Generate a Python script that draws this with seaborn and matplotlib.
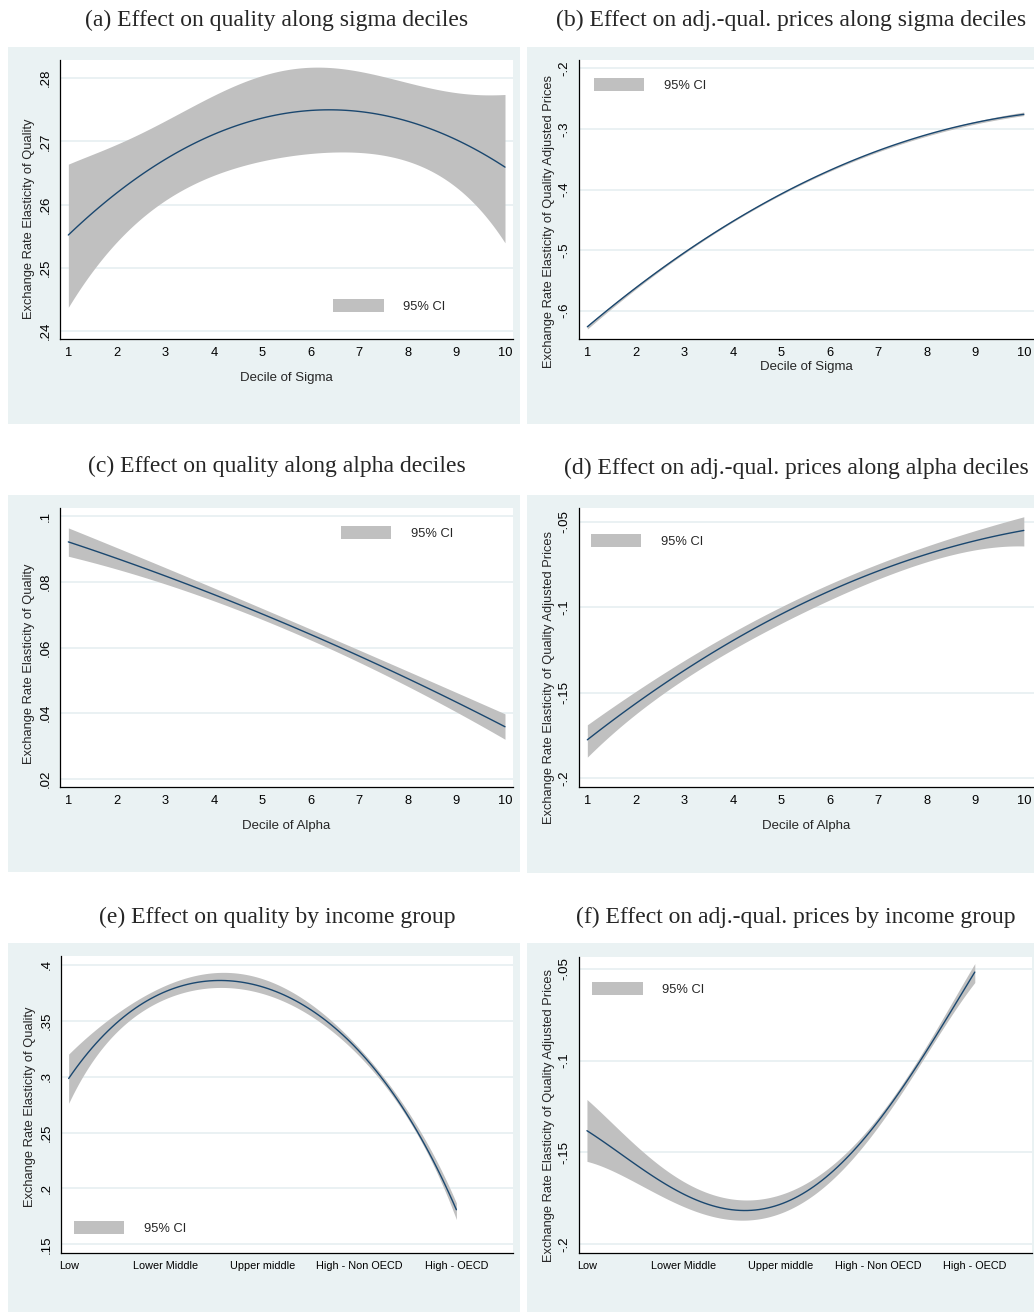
import numpy as np
import pandas as pd
import seaborn as sns
import matplotlib.pyplot as plt
from matplotlib.patches import Rectangle

# ---- data ----
sigma_x = [1, 1.5, 2, 2.5, 3, 3.5, 4, 4.5, 5, 5.5, 6, 6.5, 7, 7.5, 8, 8.5, 9, 9.5, 10]
a_est = [0.2551, 0.2586, 0.2621, 0.2647, 0.2672, 0.2693, 0.2710, 0.2725, 0.2738, 0.2744,
         0.2750, 0.2750, 0.2747, 0.2742, 0.2730, 0.2721, 0.2700, 0.2687, 0.2657]
a_hi = [0.2664, 0.2679, 0.2697, 0.2713, 0.2731, 0.2753, 0.2774, 0.2792, 0.2805, 0.2812,
        0.2816, 0.2816, 0.2813, 0.2804, 0.2792, 0.2783, 0.2777, 0.2775, 0.2774]
a_lo = [0.2437, 0.2494, 0.2545, 0.2573, 0.2607, 0.2628, 0.2650, 0.2660, 0.2668, 0.2675,
        0.2681, 0.2683, 0.2682, 0.2679, 0.2671, 0.2650, 0.2626, 0.2592, 0.2539]

decile = [1, 2, 3, 4, 5, 6, 7, 8, 9, 10]
b_est = [-0.629, -0.560, -0.503, -0.453, -0.408, -0.369, -0.336, -0.310, -0.288, -0.276]
b_hi = [-0.626, -0.5575, -0.501, -0.4512, -0.4065, -0.3675, -0.3345, -0.3082, -0.286, -0.273]
b_lo = [-0.632, -0.5625, -0.505, -0.4548, -0.4095, -0.3705, -0.3375, -0.3118, -0.290, -0.279]

c_est = [0.0922, 0.0871, 0.0817, 0.0761, 0.0703, 0.0642, 0.0573, 0.0502, 0.0433, 0.0360]
c_hi = [0.0966, 0.0903, 0.0841, 0.0780, 0.0721, 0.0660, 0.0592, 0.0524, 0.0461, 0.0400]
c_lo = [0.0878, 0.0839, 0.0793, 0.0742, 0.0685, 0.0624, 0.0554, 0.0480, 0.0405, 0.0320]

d_est = [-0.178, -0.155, -0.1368, -0.1198, -0.1042, -0.0906, -0.0783, -0.0685, -0.0609, -0.0551]
d_hi = [-0.169, -0.148, -0.1315, -0.1150, -0.0994, -0.0861, -0.0740, -0.0642, -0.0555, -0.0467]
d_lo = [-0.1877, -0.1618, -0.1423, -0.1247, -0.1091, -0.0955, -0.0834, -0.0730, -0.0666, -0.0639]

income_x = [0, 0.25, 0.5, 0.75, 1, 1.25, 1.5, 1.75, 2, 2.25, 2.5, 2.75, 3, 3.25, 3.5, 3.75, 4]
income_labels = ["Low", "Lower Middle", "Upper middle", "High - Non OECD", "High - OECD"]
e_est = [0.2984, 0.3265, 0.3490, 0.3645, 0.3761, 0.3827, 0.3860, 0.3854, 0.3806, 0.3722,
         0.3603, 0.3432, 0.3214, 0.2955, 0.2656, 0.2283, 0.1799]
e_hi = [0.3203, 0.3395, 0.3575, 0.3710, 0.3810, 0.3890, 0.3935, 0.3935, 0.3872, 0.3775,
        0.3650, 0.3475, 0.3254, 0.2990, 0.2692, 0.2320, 0.1870]
e_lo = [0.2766, 0.3135, 0.3405, 0.3580, 0.3713, 0.3770, 0.3785, 0.3780, 0.3740, 0.3670,
        0.3556, 0.3390, 0.3174, 0.2920, 0.2620, 0.2246, 0.1715]

f_est = [-0.1376, -0.1480, -0.1570, -0.1648, -0.1715, -0.1784, -0.1826, -0.1813, -0.1775, -0.1710,
         -0.1616, -0.1492, -0.1345, -0.1153, -0.0950, -0.0718, -0.0529]
f_hi = [-0.1207, -0.1350, -0.1452, -0.1568, -0.1650, -0.1724, -0.1768, -0.1757, -0.1724, -0.1665,
        -0.1578, -0.1460, -0.1318, -0.1128, -0.0925, -0.0690, -0.0476]
f_lo = [-0.1543, -0.1610, -0.1661, -0.1728, -0.1780, -0.1844, -0.1884, -0.1869, -0.1826, -0.1755,
        -0.1654, -0.1524, -0.1372, -0.1178, -0.0975, -0.0746, -0.0582]

titles = ["(a) Effect on quality along sigma deciles",
          "(b) Effect on adj.-qual. prices along sigma deciles",
          "(c) Effect on quality along alpha deciles",
          "(d) Effect on adj.-qual. prices along alpha deciles",
          "(e) Effect on quality by income group",
          "(f) Effect on adj.-qual. prices by income group"]
ylab_q = "Exchange Rate Elasticity of Quality"
ylab_p = "Exchange Rate Elasticity of Quality Adjusted Prices"

# ---- style ----
sns.set_theme(style="white")
plt.rcParams['font.family'] = ['Liberation Sans', 'DejaVu Sans']

W, H = 1034, 1312
BG = "#EAF2F3"
GRID = "#E6EFF1"
NAVY = "#1A476F"
CIGRAY = "#C0C0C0"

fig = plt.figure(figsize=(W / 100, H / 100), dpi=100)
fig.patch.set_facecolor("white")


def px_rect(x0, y0, x1, y1):
    return [x0 / W, 1 - y1 / H, (x1 - x0) / W, (y1 - y0) / H]


def smooth(x, y, order):
    # smooth polynomial through the read values, for drawing the band edges
    xs = np.linspace(min(x), max(x), 300)
    return xs, np.polyval(np.polyfit(x, y, order), xs)


def panel(bg, axbox, title, title_xy, x, est, lo, hi, order, eorder, yticks, ylabels,
          ylim, xlim, ylabel, ylab_cy, xlabel, xticks, xticklabels, leg_xy, xlabpad, xfs=9.3):
    r = px_rect(*bg)
    fig.add_artist(Rectangle((r[0], r[1]), r[2], r[3], transform=fig.transFigure,
                             facecolor=BG, edgecolor="none", zorder=0))
    fig.text(title_xy[0] / W, 1 - title_xy[1] / H, title, ha="center", va="center",
             fontsize=17, family=["Liberation Serif", "DejaVu Serif"])
    ax = fig.add_axes(px_rect(*axbox))
    ax.set_facecolor("white")
    for y in yticks:
        ax.axhline(y, color=GRID, lw=1.2, zorder=0)
    xs, lo_s = smooth(x, lo, eorder)
    _, hi_s = smooth(x, hi, eorder)
    ci = ax.fill_between(xs, lo_s, hi_s, color=CIGRAY, lw=0, zorder=1, label="95% CI")
    df = pd.DataFrame({"x": x, "y": est})
    sns.regplot(data=df, x="x", y="y", ax=ax, order=order, ci=None, scatter=False,
                truncate=True, line_kws={"color": NAVY, "lw": 1.0, "zorder": 2})
    ax.set_xlim(*xlim)
    ax.set_ylim(*ylim)
    ax.set_yticks(yticks, ylabels, rotation=90, va="center", fontsize=9.5)
    ax.set_xticks(xticks, xticklabels, fontsize=xfs)
    ax.tick_params(direction="out", length=4, width=0.9, colors="black", pad=2)
    for s in ["top", "right"]:
        ax.spines[s].set_visible(False)
    for s in ["left", "bottom"]:
        ax.spines[s].set_color("black")
        ax.spines[s].set_linewidth(0.9)
    ax.set_ylabel(ylabel, fontsize=9.3)
    # stata centres the y title a little below the plot region centre
    ax.yaxis.set_label_coords(-0.056 if axbox[0] < 100 else -0.052,
                              (axbox[3] - ylab_cy) / (axbox[3] - axbox[1]))
    ax.set_xlabel(xlabel, fontsize=9.5, labelpad=xlabpad)
    ax.legend(handles=[ci], labels=["95% CI"], loc="center left",
              bbox_to_anchor=leg_xy, frameon=False, fontsize=9.3,
              handlelength=3.9, handleheight=1.15, handletextpad=1.5,
              borderpad=0, borderaxespad=0)
    return ax


dec_labels = [str(d) for d in decile]

panel((8, 47, 520, 424), (60, 60, 513, 339), titles[0], (277, 20),
      sigma_x, a_est, a_lo, a_hi, 3, 6,
      [0.24, 0.25, 0.26, 0.27, 0.28], [".24", ".25", ".26", ".27", ".28"],
      (0.2387, 0.2829), (0.828, 10.165), ylab_q, 219, "Decile of Sigma",
      decile, dec_labels, (0.603, 0.118), 9)

panel((527, 47, 1034, 424), (579, 60, 1034, 339), titles[1], (791, 20),
      decile, b_est, b_lo, b_hi, 2, 3,
      [-0.6, -0.5, -0.4, -0.3, -0.2], ["-.6", "-.5", "-.4", "-.3", "-.2"],
      (-0.647, -0.186), (0.828, 10.21), ylab_p, 221, "Decile of Sigma",
      decile, dec_labels, (0.033, 0.910), 1)

panel((8, 495, 520, 872), (60, 508, 513, 787), titles[2], (277, 466),
      decile, c_est, c_lo, c_hi, 2, 3,
      [0.02, 0.04, 0.06, 0.08, 0.1], [".02", ".04", ".06", ".08", ".1"],
      (0.0175, 0.1025), (0.828, 10.165), ylab_q, 664, "Decile of Alpha",
      decile, dec_labels, (0.620, 0.910), 9)

panel((527, 495, 1034, 873), (579, 508, 1034, 787), titles[3], (796, 468),
      decile, d_est, d_lo, d_hi, 3, 4,
      [-0.2, -0.15, -0.1, -0.05], ["-.2", "-.15", "-.1", "-.05"],
      (-0.205, -0.0418), (0.828, 10.21), ylab_p, 678, "Decile of Alpha",
      decile, dec_labels, (0.026, 0.882), 9)

panel((8, 943, 520, 1312), (61, 956, 513, 1253), titles[4], (277, 917),
      income_x, e_est, e_lo, e_hi, 4, 6,
      [0.15, 0.2, 0.25, 0.3, 0.35, 0.4], [".15", ".2", ".25", ".3", ".35", ".4"],
      (0.1422, 0.408), (-0.079, 4.584), ylab_q, 1107, "",
      [0, 1, 2, 3, 4], income_labels, (0.029, 0.084), 0, xfs=7.8)

panel((527, 943, 1034, 1312), (579, 957, 1032, 1253), titles[5], (796, 917),
      income_x, f_est, f_lo, f_hi, 4, 6,
      [-0.2, -0.15, -0.1, -0.05], ["-.2", "-.15", "-.1", "-.05"],
      (-0.2047, -0.0437), (-0.082, 4.59), ylab_p, 1116, "",
      [0, 1, 2, 3, 4], income_labels, (0.029, 0.892), 0, xfs=7.8)

fig.savefig("out.png", dpi=100)
